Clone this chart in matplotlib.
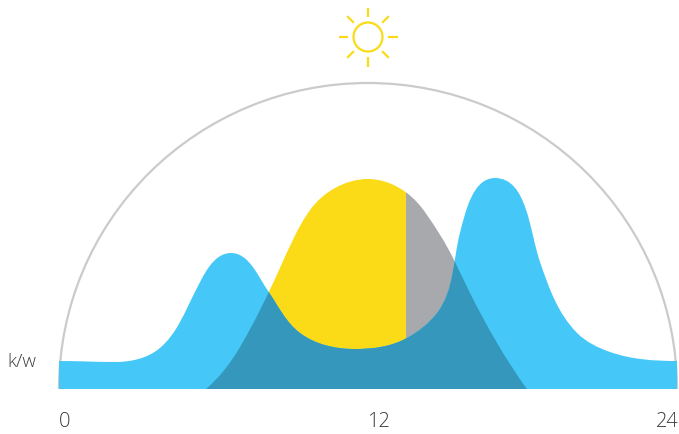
import matplotlib
matplotlib.use("Agg")
import matplotlib.pyplot as plt
from matplotlib.patches import Arc, Circle, PathPatch, Rectangle
from matplotlib.path import Path
import numpy as np

# two day curves: hour of day, k/w and the steepness there (k/w per hour)
load_hours = [0, 2.17, 3.92, 5.28, 6.68, 8.12, 9.36, 11.50, 13.51, 14.68, 15.57, 16.93, 18.68, 20.12, 21.40, 24]
load_kw = [2.8, 2.7, 4.1, 9.7, 13.6, 9.8, 5.6, 4.0, 5.1, 7.6, 15.6, 21.1, 12.7, 5.6, 3.7, 2.8]
load_steep = [0, 0, 2.19, 5.02, 0, -3.73, -1.93, 0, 1.42, 3.35, 10.04, 0, -7.47, -2.58, -0.90, 0]

solar_hours = [5.71, 7.03, 8.58, 9.75, 12, 13.51, 14.80, 15.96, 18.17]
solar_kw = [0, 4.2, 12.1, 17.9, 21.0, 19.6, 15.4, 9.6, 0]
solar_steep = [2.19, 4.38, 5.67, 3.6, 0, -1.93, -3.99, -5.15, -3.6]

battery_end = 13.48  # yellow stops here, grey after

tick_hours = [0, 12, 24]
tick_labels = ["0", "12", "24"]
tick_shift = [0.23, 0.39, -0.39]

BLUE = "#45c8f8"
DARK = "#3497bb"
YELLOW = "#fbdb17"
GREY = "#a7a9ac"
ARC = "#cbcbcb"
TEXT = "#3c3c3c"
FONT = "Open Sans"

X_SCALE = 2.575  # one hour is as wide on screen as this many k/w are tall


def area_path(xs, ys, steep):
    # bezier outline through the read points, closed along the baseline
    pts = np.column_stack([np.array(xs, dtype=float) * X_SCALE, ys])
    seg = np.diff(pts, axis=0)
    length = np.hypot(seg[:, 0], seg[:, 1])
    tang = np.column_stack([np.full(len(pts), X_SCALE), steep])
    tang = tang / np.hypot(tang[:, 0], tang[:, 1])[:, None]
    verts = [(pts[0, 0], 0), tuple(pts[0])]
    codes = [Path.MOVETO, Path.LINETO]
    for i in range(len(pts) - 1):
        d = length[i] * 0.34
        verts += [tuple(pts[i] + tang[i] * d), tuple(pts[i + 1] - tang[i + 1] * d), tuple(pts[i + 1])]
        codes += [Path.CURVE4] * 3
    verts += [(pts[-1, 0], 0), (pts[0, 0], 0)]
    codes += [Path.LINETO, Path.CLOSEPOLY]
    verts = np.array(verts)
    verts[:, 0] /= X_SCALE
    return Path(verts, codes)


fig = plt.figure(figsize=(6.79, 4.34), dpi=100)
ax = fig.add_axes([0, 0, 1, 1])
ax.set_xlim(-59 / 25.75, 620 / 25.75)
ax.set_ylim(-4.5, 38.9)
ax.axis("off")

ax.add_patch(Arc((12, 0), 24, 61.2, theta1=0, theta2=180, color=ARC, lw=1.6, zorder=1))

solar = area_path(solar_hours, solar_kw, solar_steep)
load = area_path(load_hours, load_kw, load_steep)

yellow_part = ax.add_patch(PathPatch(solar, fc=YELLOW, lw=0, zorder=2))
yellow_part.set_clip_path(Rectangle((0, 0), battery_end, 30, transform=ax.transData))
grey_part = ax.add_patch(PathPatch(solar, fc=GREY, lw=0, zorder=2))
grey_part.set_clip_path(Rectangle((battery_end, 0), 24 - battery_end, 30, transform=ax.transData))
blue = ax.add_patch(PathPatch(load, fc=BLUE, lw=0, zorder=3))
# overlap = solar shape cut by the load shape
overlap = ax.add_patch(PathPatch(solar, fc=DARK, lw=0, zorder=4))
overlap.set_clip_path(blue)

for h, lab, d in zip(tick_hours, tick_labels, tick_shift):
    ax.text(h + d, -3.3, lab, ha="center", va="center", fontsize=14.5, color=TEXT,
            family=FONT, weight="light")
ax.text(-2.02, 2.7, "k/w", ha="left", va="center", fontsize=13.5, color=TEXT, family=FONT, weight="light")

# sun icon in its own square axes
sun = fig.add_axes([(368 - 34) / 679, 1 - (37 + 34) / 434, 68 / 679, 68 / 434])
sun.set_xlim(-34, 34)
sun.set_ylim(-34, 34)
sun.axis("off")
sun.add_patch(Circle((0, 0), 14.5, fill=False, ec=YELLOW, lw=1.6))
for a in np.deg2rad(np.arange(0, 360, 45)):
    sun.plot([20 * np.cos(a), 29.5 * np.cos(a)], [20 * np.sin(a), 29.5 * np.sin(a)],
             color=YELLOW, lw=1.6, solid_capstyle="butt")

fig.savefig("out.png", dpi=100)
